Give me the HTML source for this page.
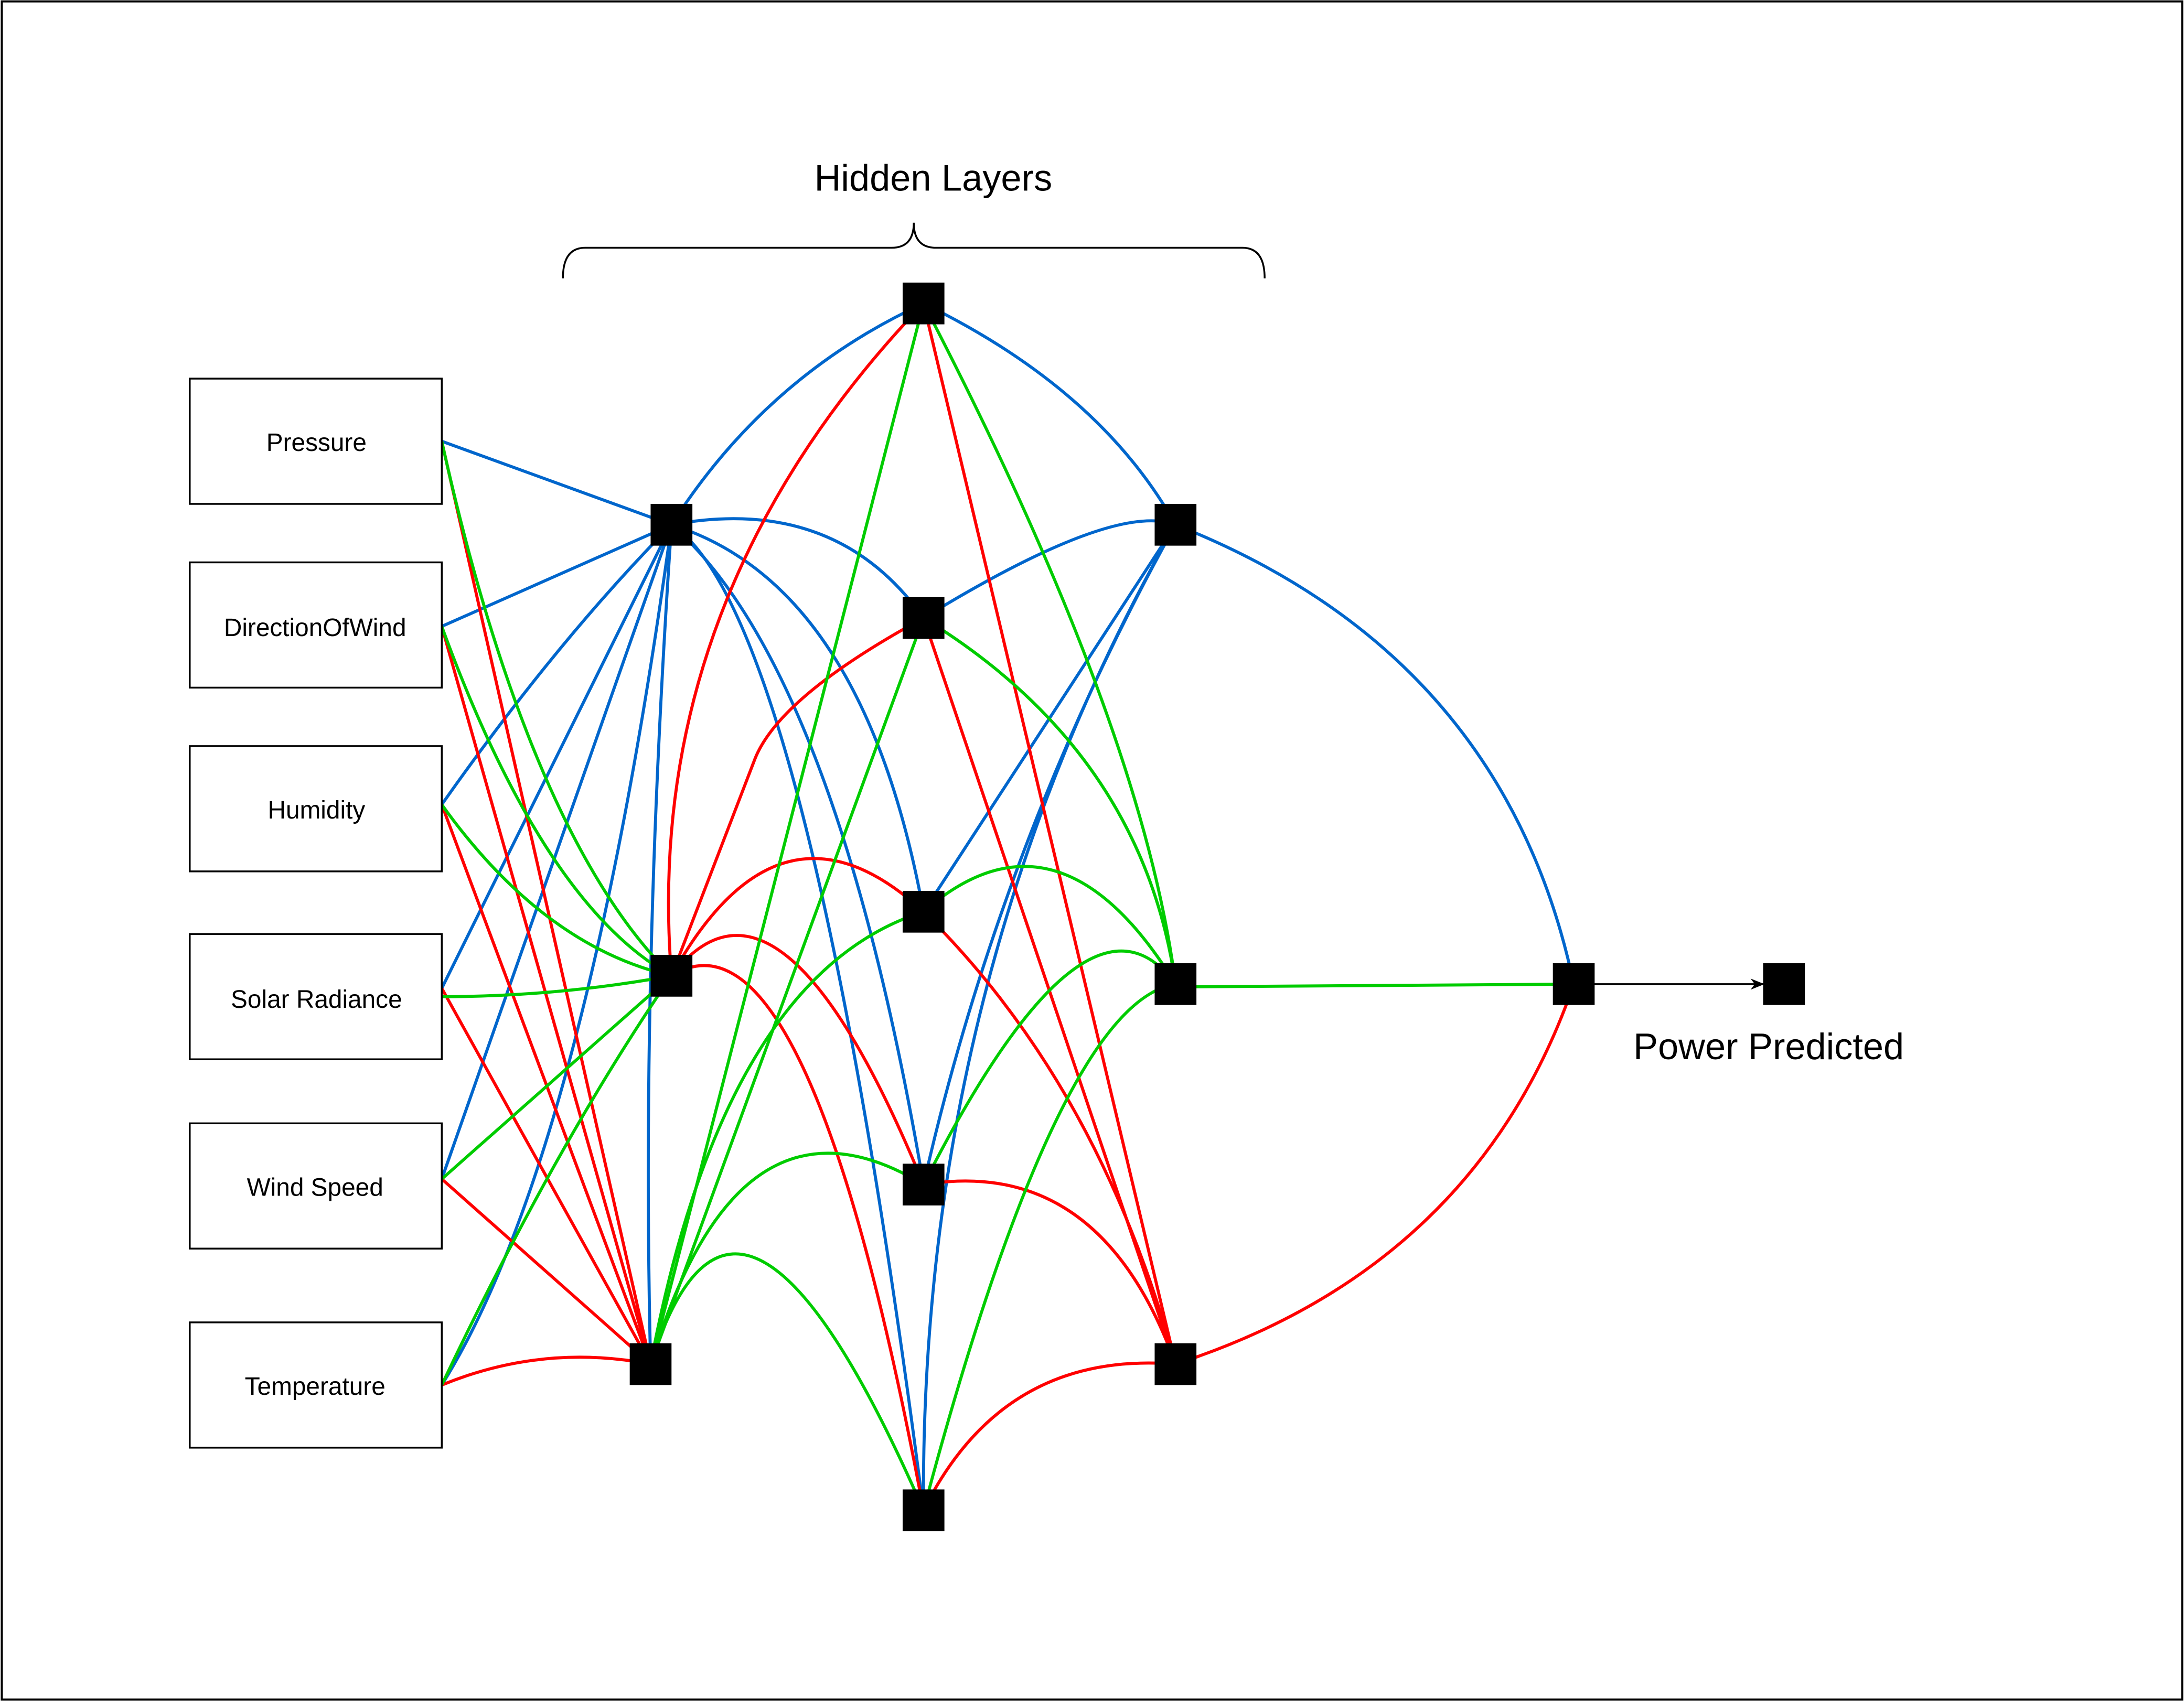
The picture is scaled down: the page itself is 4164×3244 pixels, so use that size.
<!DOCTYPE html>
<html><head><meta charset="utf-8"><style>
html,body{margin:0;padding:0;background:#fff}
svg{display:block}
text{font-family:"Liberation Sans",Arial,sans-serif}
</style></head><body>
<svg width="4164" height="3244" viewBox="0 0 1568 1222" xmlns="http://www.w3.org/2000/svg">
<defs><marker id="ar" markerWidth="10" markerHeight="10" refX="9" refY="5" orient="auto" markerUnits="userSpaceOnUse"><path d="M0,1 L10,5 L0,9 L3,5 Z" fill="#000"/></marker></defs>
<rect x="1" y="1" width="1566" height="1220" fill="#fff" stroke="#000" stroke-width="1.5"/>
<text x="670" y="137" font-size="26.5" text-anchor="middle">Hidden Layers</text>
<path d="M404,200 Q404,178 420,178 L640,178 Q656,178 656,160 Q656,178 672,178 L892,178 Q908,178 908,200" fill="none" stroke="#000" stroke-width="1.3"/>
<g fill="none" stroke-width="2.2">
<g stroke="#0066CC">
<path d="M317,317 L482,377"/>
<path d="M317,450 L482,377"/>
<path d="M317,578 Q400,460 482,377"/>
<path d="M317,710 L482,377"/>
<path d="M317,847 L482,377"/>
<path d="M317,995 Q420,830 482,377"/>
<path d="M482,377 Q460,700 467,980"/>
<path d="M482,377 Q550,270 663,218"/>
<path d="M482,377 Q600,355 663,444"/>
<path d="M482,377 Q620,420 663,655"/>
<path d="M482,377 Q600,480 663,851"/>
<path d="M482,377 Q580,440 663,1085"/>
<path d="M663,218 Q790,280 844,377"/>
<path d="M663,444 Q800,360 844,377"/>
<path d="M663,655 L844,377"/>
<path d="M663,851 Q720,600 844,377"/>
<path d="M663,1085 Q660,700 844,377"/>
<path d="M844,377 Q1080,470 1130,707"/>
</g>
<g stroke="#FF0000">
<path d="M317,317 L467,980"/>
<path d="M317,450 L467,980"/>
<path d="M317,578 L467,980"/>
<path d="M317,710 L467,980"/>
<path d="M317,847 L467,980"/>
<path d="M317,995 Q390,965 467,980"/>
<path d="M482,701 Q460,430 663,218"/>
<path d="M482,701 L542,545 Q560,500 663,444"/>
<path d="M482,701 Q560,560 663,655"/>
<path d="M482,701 Q560,600 663,851"/>
<path d="M482,701 Q580,640 663,1085"/>
<path d="M663,218 L844,980"/>
<path d="M663,444 L844,980"/>
<path d="M663,655 Q790,780 844,980"/>
<path d="M663,851 Q790,830 844,980"/>
<path d="M663,1085 Q720,970 844,980"/>
<path d="M844,980 Q1060,910 1130,707"/>
</g>
<g stroke="#00CC00">
<path d="M317,317 Q380,600 482,701"/>
<path d="M317,450 Q390,650 482,701"/>
<path d="M317,578 Q390,680 482,701"/>
<path d="M317,716 Q400,716 482,701"/>
<path d="M317,847 L482,701"/>
<path d="M317,995 Q400,820 482,701"/>
<path d="M467,980 L663,218"/>
<path d="M467,980 L663,444"/>
<path d="M467,980 Q520,700 663,655"/>
<path d="M467,980 Q530,770 663,851"/>
<path d="M467,980 Q530,780 663,1085"/>
<path d="M663,218 Q820,520 844,707"/>
<path d="M663,444 Q820,540 844,707"/>
<path d="M663,655 Q760,570 844,707"/>
<path d="M663,851 Q780,620 844,707"/>
<path d="M663,1085 Q760,720 844,707"/>
<path d="M844,709 L1130,707"/>
</g>
</g>
<line x1="1130" y1="707" x2="1266" y2="707" stroke="#000" stroke-width="1.3" marker-end="url(#ar)"/>
<g fill="#000">
<rect x="467" y="362" width="30" height="30"/>
<rect x="467" y="686" width="30" height="30"/>
<rect x="452" y="965" width="30" height="30"/>
<rect x="648" y="203" width="30" height="30"/>
<rect x="648" y="429" width="30" height="30"/>
<rect x="648" y="640" width="30" height="30"/>
<rect x="648" y="836" width="30" height="30"/>
<rect x="648" y="1070" width="30" height="30"/>
<rect x="829" y="362" width="30" height="30"/>
<rect x="829" y="692" width="30" height="30"/>
<rect x="829" y="965" width="30" height="30"/>
<rect x="1115" y="692" width="30" height="30"/>
<rect x="1266" y="692" width="30" height="30"/>
</g>
<g fill="#fff" stroke="#000" stroke-width="1.3">
<rect x="136" y="272" width="181" height="90"/>
<rect x="136" y="404" width="181" height="90"/>
<rect x="136" y="536" width="181" height="90"/>
<rect x="136" y="671" width="181" height="90"/>
<rect x="136" y="807" width="181" height="90"/>
<rect x="136" y="950" width="181" height="90"/>
</g>
<g font-size="18" text-anchor="middle">
<text x="227" y="324">Pressure</text>
<text x="226" y="457">DirectionOfWind</text>
<text x="227" y="588">Humidity</text>
<text x="227" y="724">Solar Radiance</text>
<text x="226" y="859">Wind Speed</text>
<text x="226" y="1002">Temperature</text>
</g>
<text x="1270" y="761" font-size="26.5" text-anchor="middle">Power Predicted</text>
</svg>
</body></html>
